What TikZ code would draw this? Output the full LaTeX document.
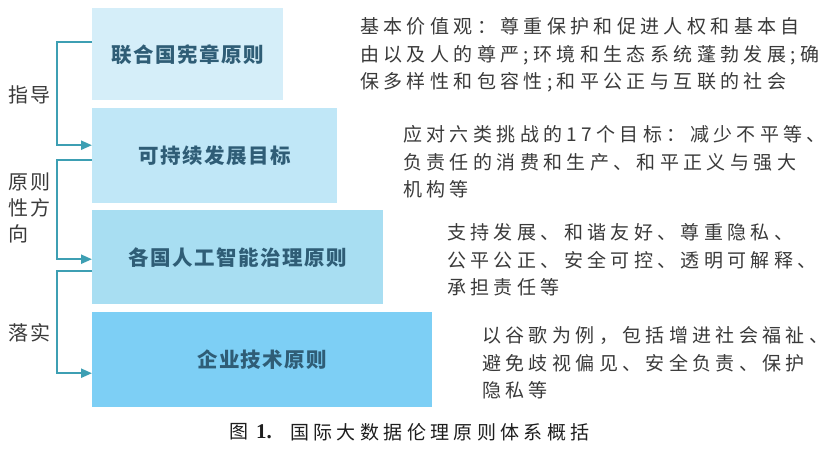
\documentclass[tikz,border=0pt]{standalone}
\usepackage{fontspec}
\usetikzlibrary{arrows.meta}
\newfontfamily\boxfont[LetterSpace=7]{Noto Sans CJK SC}
\newfontfamily\descfont[LetterSpace=23]{Noto Sans CJK SC}
\newfontfamily\labfont[LetterSpace=10]{Noto Sans CJK SC}
\newfontfamily\latinserif{Liberation Serif}
\definecolor{cA}{HTML}{D5EEF9}
\definecolor{cB}{HTML}{C0E7F7}
\definecolor{cC}{HTML}{A8DEF2}
\definecolor{cD}{HTML}{7DCFF5}
\definecolor{boxtext}{HTML}{2F5D76}
\definecolor{desctext}{HTML}{3A3A3A}
\definecolor{captcol}{HTML}{1E1E1E}
\definecolor{brcol}{HTML}{3D9FB3}
\tikzset{
  layerbox/.style={rectangle, inner sep=0pt, anchor=north west, text=boxtext,
    font=\boxfont\bfseries\fontsize{20.5}{24}\selectfont},
  desc/.style={anchor=west, align=left, inner sep=0pt, text=desctext,
    font=\descfont\fontsize{19}{27.5}\selectfont},
  lab/.style={anchor=west, align=left, inner sep=0pt, text=desctext,
    font=\labfont\fontsize{20}{26}\selectfont},
  captext/.style={anchor=west, align=left, inner sep=0pt, text=captcol,
    font=\descfont\fontsize{19}{24}\selectfont},
  br/.style={draw=brcol, line width=2.2pt, -{Triangle[length=11pt,width=9pt]}},
}
\begin{document}
\begin{tikzpicture}[x=1pt,y=-1pt]
\useasboundingbox (0,0) rectangle (828,456);
\fill[white] (0,0) rectangle (828,456);

\node[layerbox, fill=cA, minimum width=191pt, minimum height=92pt] (b1) at (92,8) {联合国宪章原则};
\node[layerbox, fill=cB, minimum width=245pt, minimum height=95pt] (b2) at (92,108) {可持续发展目标};
\node[layerbox, fill=cC, minimum width=291pt, minimum height=94pt] (b3) at (92,210) {各国人工智能治理原则};
\node[layerbox, fill=cD, minimum width=340pt, minimum height=95pt] (b4) at (92,312) {企业技术原则};

\node[desc] (t1) at (360,55) {基本价值观：尊重保护和促进人权和基本自\\由以及人的尊严;环境和生态系统蓬勃发展;确\\保多样性和包容性;和平公正与互联的社会};
\node[desc] (t2) at (403,162) {应对六类挑战的17个目标：减少不平等、\\负责任的消费和生产、和平正义与强大\\机构等};
\node[desc] (t3) at (447,260) {支持发展、和谐友好、尊重隐私、\\公平公正、安全可控、透明可解释、\\承担责任等};
\node[desc] (t4) at (482,363) {以谷歌为例，包括增进社会福祉、\\避免歧视偏见、安全负责、保护\\隐私等};

\node[lab] (l1) at (8,95) {指导};
\node[lab] (l2) at (8,208) {原则\\性方\\向};
\node[lab] (l3) at (8,333) {落实};

\draw[br] ([yshift=12pt]b1.west) -- ++(-35,0) |- ([yshift=10.5pt]b2.west);
\draw[br] ([yshift=-4.5pt]b2.west) -- ++(-35,0) |- ([yshift=-2pt]b3.west);
\draw[br] ([yshift=-14pt]b3.west) -- ++(-35,0) |- ([yshift=-13.5pt]b4.west);

\node[captext] (capA) at (229,432) {图};
\node[captext, font=\latinserif\bfseries\fontsize{21}{24}\selectfont] (capB) at (256,432) {1.};
\node[captext] (capC) at (290,432) {国际大数据伦理原则体系概括};
\end{tikzpicture}
\end{document}
